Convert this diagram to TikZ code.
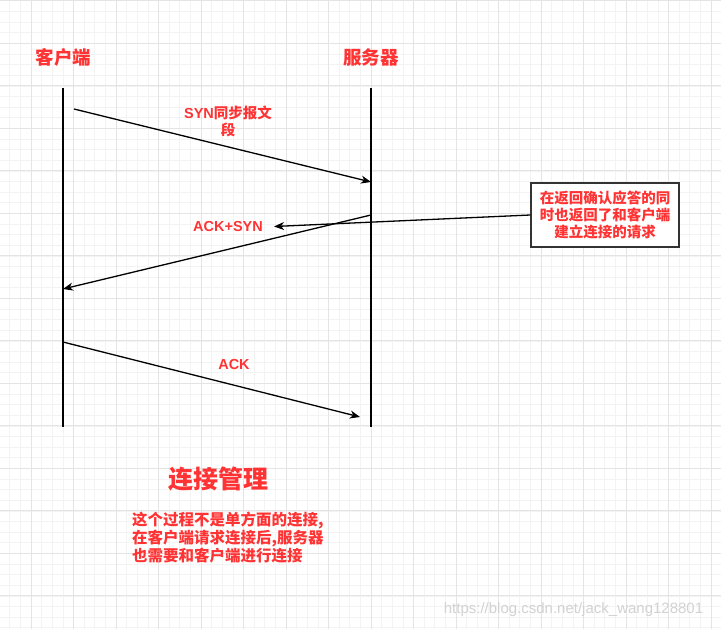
\documentclass[tikz,border=0pt]{standalone}
\usepackage{fontspec}
\setmainfont{Noto Sans CJK SC}
\newfontfamily\latin{Liberation Sans}
\usetikzlibrary{arrows.meta}
\definecolor{Alert}{HTML}{FF3333}
\definecolor{GridMajor}{HTML}{E4E4E4}
\definecolor{GridMinor}{HTML}{F3F3F3}
\definecolor{Frame}{HTML}{333333}
\definecolor{Mark}{HTML}{D2D2D2}
\begin{document}
\begin{tikzpicture}[x=1pt,y=-1pt,
    role/.style={font=\fontsize{18.5}{22}\selectfont\bfseries,text=Alert,inner sep=0pt},
    msglabel/.style={font=\fontsize{14.5}{17}\selectfont\bfseries,text=Alert,align=center,inner sep=0pt},
    lifeline/.style={line width=1.3pt},
    msg/.style={line width=1.3pt,-{Stealth[length=10pt,width=8pt,inset=3pt]}},
    note/.style={draw=Frame,line width=1.3pt,fill=white,minimum width=148pt,minimum height=64pt,
                 align=center,font=\fontsize{14.5}{17}\selectfont\bfseries,text=Alert,inner sep=0pt}
  ]
    \useasboundingbox (0,0) rectangle (721,629);
    \fill[white] (0,0) rectangle (721,629);
    % grid
    \foreach \i in {-2,...,64} \draw[GridMinor,line width=0.6pt] ({31+10.625*\i},0) -- ({31+10.625*\i},629);
    \foreach \i in {0,...,59} \draw[GridMinor,line width=0.6pt] (0,{0.8+10.625*\i}) -- (721,{0.8+10.625*\i});
    \foreach \i in {0,...,16} \draw[GridMajor,line width=0.8pt] ({31+42.5*\i},0) -- ({31+42.5*\i},629);
    \foreach \i in {0,...,14} \draw[GridMajor,line width=0.8pt] (0,{0.8+42.5*\i}) -- (721,{0.8+42.5*\i});
    % roles and lifelines
    \node[role] (client) at (63.5,57) {客户端};
    \node[role] (server) at (371,57) {服务器};
    \coordinate (ctop) at (63,88);
    \coordinate (cbot) at (63,427);
    \coordinate (stop) at (371,88);
    \coordinate (sbot) at (371,427);
    \draw[lifeline] (ctop) -- (cbot);
    \draw[lifeline] (stop) -- (sbot);
    % messages
    \coordinate (syn0) at (74,109);
    \coordinate (syn1) at (371,182);
    \coordinate (ack0) at (371,215);
    \coordinate (ack1) at (63,289);
    \coordinate (fin0) at (63,342);
    \coordinate (fin1) at (360,417);
    \draw[msg] (syn0) -- (syn1);
    \draw[msg] (ack0) -- (ack1);
    \draw[msg] (fin0) -- (fin1);
    \node[msglabel] (synlabel) at (228,121) {{\latin\bfseries SYN}同步报文\\段};
    \node[msglabel] (acklabel) at (228,226.5) {\latin\bfseries ACK+SYN};
    \node[msglabel] (finlabel) at (234,364.5) {\latin\bfseries ACK};
    % note
    \node[note] (remark) at (605,215) {在返回确认应答的同\\时也返回了和客户端\\建立连接的请求};
    \draw[msg] (remark.west) -- ([xshift=11pt]acklabel.east);
    % summary
    \node[font=\fontsize{25}{30}\selectfont\bfseries,text=Alert,inner sep=0pt] (title) at (218,479) {连接管理};
    \node[font=\fontsize{15.5}{18}\selectfont\bfseries,text=Alert,align=left,anchor=west,inner sep=0pt] (summary) at (132,538)
      {这个过程不是单方面的连接,\\在客户端请求连接后,服务器\\也需要和客户端进行连接};
    \node[font=\latin\fontsize{15}{18}\selectfont,text=Mark,inner sep=0pt] (mark) at (573.5,610) {https://blog.csdn.net/jack\_wang128801};
  \end{tikzpicture}
\end{document}
